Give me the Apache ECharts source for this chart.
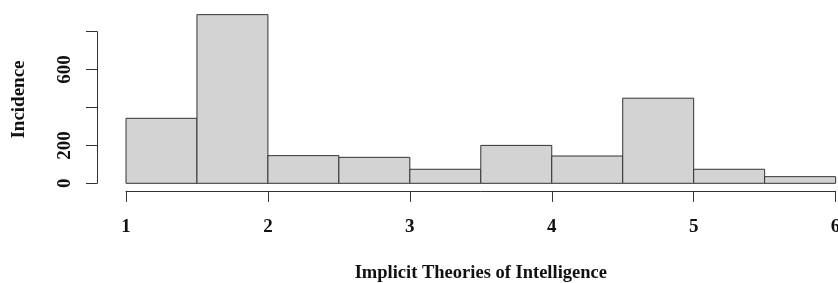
<!DOCTYPE html>
<html>
<head>
<meta charset="utf-8">
<script src="https://cdn.jsdelivr.net/npm/echarts@6/dist/echarts.min.js"></script>
<style>
html, body { margin: 0; padding: 0; background: #fff; }
#main { width: 838px; height: 283px; }
</style>
</head>
<body>
<div id="main"></div>
<script>
// histogram bins (left edge, right edge) and counts
var binStart = [1, 1.5, 2, 2.5, 3, 3.5, 4, 4.5, 5, 5.5];
var binEnd = [1.5, 2, 2.5, 3, 3.5, 4, 4.5, 5, 5.5, 6];
var counts = [343, 890, 146, 137, 74, 200, 144, 449, 74, 35];
var xTicks = [1, 2, 3, 4, 5, 6];
var yTicks = [0, 200, 400, 600, 800];
var yTickLabels = ['0', '200', '', '600', ''];

var myChart = echarts.init(document.getElementById('main'));

var rows = [];
for (var i = 0; i < counts.length; i++) {
	rows.push([binStart[i], binEnd[i], counts[i]]);
}

var font = 'Liberation Serif';

var option = {
	animation : false,
	grid : {
		left : 126,
		right : 2.4,
		top : 31.7,
		bottom : 99.7,
		containLabel : false,
		outerBoundsMode : 'none'
	},
	xAxis : {
		type : 'value',
		min : xTicks[0],
		max : xTicks[xTicks.length - 1],
		interval : 1,
		offset : 7.6,
		name : 'Implicit Theories of Intelligence',
		nameLocation : 'middle',
		nameGap : 73,
		nameTextStyle : { fontFamily : font, fontWeight : 'bold', fontSize : 18.5, color : '#111' },
		splitLine : { show : false },
		axisLine : { show : true, onZero : false, lineStyle : { color : '#333', width : 1 } },
		axisTick : { show : true, length : 11, lineStyle : { color : '#333' } },
		axisLabel : { margin : 27, fontFamily : font, fontWeight : 'bold', fontSize : 19, color : '#111' }
	},
	yAxis : {
		type : 'value',
		min : yTicks[0],
		max : yTicks[yTicks.length - 1],
		interval : 200,
		offset : 29,
		name : 'Incidence',
		nameLocation : 'middle',
		nameGap : 68,
		nameRotate : 90,
		// R centres the title on the full plot region, a bit above the axis middle
		nameTextStyle : { fontFamily : font, fontWeight : 'bold', fontSize : 19, color : '#111', padding : [0, 0, 0, 16] },
		splitLine : { show : false },
		axisLine : { show : true, onZero : false, lineStyle : { color : '#333', width : 1 } },
		axisTick : { show : true, length : 11, lineStyle : { color : '#333' } },
		axisLabel : {
			rotate : 90,
			margin : 22,
			fontFamily : font,
			fontWeight : 'bold',
			fontSize : 19,
			color : '#111',
			formatter : function(v) {
				var k = yTicks.indexOf(v);
				return k >= 0 ? yTickLabels[k] : '';
			}
		}
	},
	series : [ {
		type : 'custom',
		clip : false,
		data : rows,
		encode : { x : [0, 1], y : 2 },
		renderItem : function(params, api) {
			var p0 = api.coord([api.value(0), 0]);
			var p1 = api.coord([api.value(1), api.value(2)]);
			return {
				type : 'rect',
				shape : { x : p0[0], y : p1[1], width : p1[0] - p0[0], height : p0[1] - p1[1] },
				style : { fill : '#d3d3d3', stroke : '#333', lineWidth : 1 }
			};
		}
	} ]
};

myChart.setOption(option);
</script>
</body>
</html>
